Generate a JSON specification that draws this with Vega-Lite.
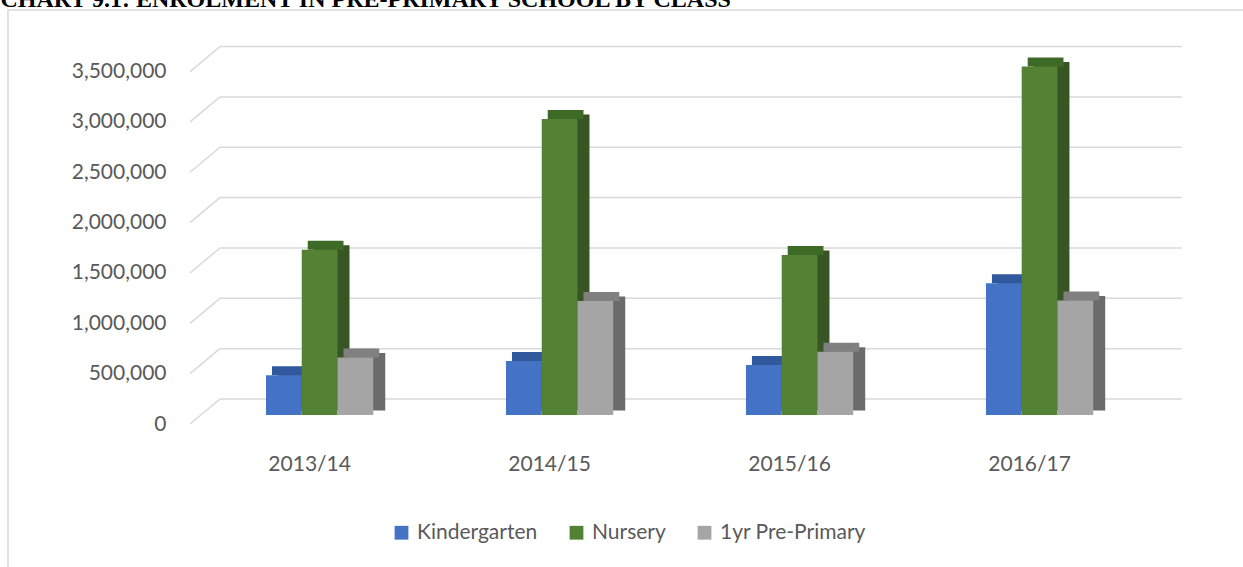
{
  "$schema": "https://vega.github.io/schema/vega-lite/v6.json",
  "autosize": "none",
  "width": 1240,
  "height": 560,
  "padding": {"left": 8, "top": 10, "right": 0, "bottom": 0},
  "background": "white",
  "config": {
    "view": {"stroke": "#d9d9d9", "strokeWidth": 1.5},
    "axis": {
      "labelFont": "Lato",
      "labelFontSize": 21,
      "labelColor": "#595959",
      "domain": false,
      "ticks": false,
      "tickSize": 0,
      "grid": false
    },
    "legend": {
      "labelFont": "Lato",
      "labelFontSize": 21,
      "labelColor": "#595959"
    }
  },
  "datasets": {
    "enrol": [
      {"year": "2013/14", "series": "Kindergarten", "value": 395000},
      {"year": "2013/14", "series": "Nursery", "value": 1640000},
      {"year": "2013/14", "series": "1yr Pre-Primary", "value": 570000},
      {"year": "2014/15", "series": "Kindergarten", "value": 537000},
      {"year": "2014/15", "series": "Nursery", "value": 2940000},
      {"year": "2014/15", "series": "1yr Pre-Primary", "value": 1133000},
      {"year": "2015/16", "series": "Kindergarten", "value": 497000},
      {"year": "2015/16", "series": "Nursery", "value": 1590000},
      {"year": "2015/16", "series": "1yr Pre-Primary", "value": 629000},
      {"year": "2016/17", "series": "Kindergarten", "value": 1309000},
      {"year": "2016/17", "series": "Nursery", "value": 3460000},
      {"year": "2016/17", "series": "1yr Pre-Primary", "value": 1136000}
    ],
    "grid": [
      {"v": 0}, {"v": 500000}, {"v": 1000000}, {"v": 1500000},
      {"v": 2000000}, {"v": 2500000}, {"v": 3000000}, {"v": 3500000}
    ]
  },
  "layer": [
    {
      "data": {"name": "grid"},
      "mark": {"type": "rule", "color": "#d9d9d9", "strokeWidth": 1.5, "yOffset": -16},
      "encoding": {
        "x": {
          "datum": "2013/14",
          "bandPosition": -0.429,
          "type": "nominal",
          "scale": {"paddingInner": 0.553, "paddingOuter": 0.86, "align": 0.625},
          "axis": {"title": null, "labelAngle": 0, "offset": -117, "labelPadding": 0, "labelBaseline": "top", "labelOffset": -10, "bandPosition": 0.5}
        },
        "x2": {"datum": "2016/17", "bandPosition": 1.827},
        "y": {
          "field": "v",
          "type": "quantitative",
          "scale": {"domain": [-1539000, 4022000], "nice": false, "zero": false},
          "axis": {
            "values": [0, 500000, 1000000, 1500000, 2000000, 2500000, 3000000, 3500000],
            "format": ",.0f",
            "offset": -158,
            "labelPadding": 0,
            "labelOffset": 9,
            "title": "CHART 9.1: ENROLMENT IN PRE-PRIMARY SCHOOL BY CLASS",
            "titleAngle": 0,
            "titleX": -166,
            "titleY": -4,
            "titleAlign": "left",
            "titleBaseline": "alphabetic",
            "titleFont": "Liberation Serif",
            "titleFontSize": 24,
            "titleFontWeight": "bold",
            "titleColor": "#000000"
          }
        }
      }
    },
    {
      "data": {"name": "grid"},
      "mark": {"type": "rule", "color": "#d9d9d9", "strokeWidth": 1.5, "yOffset": 9, "y2Offset": -16},
      "encoding": {
        "x": {"datum": "2013/14", "bandPosition": -0.708, "type": "nominal"},
        "x2": {"datum": "2013/14", "bandPosition": -0.429},
        "y": {"field": "v", "type": "quantitative"},
        "y2": {"field": "v"}
      }
    },
    {
      "data": {"name": "enrol"},
      "mark": {"type": "bar", "yOffset": -4.5},
      "encoding": {
        "x": {"field": "year", "type": "nominal"},
        "xOffset": {
          "field": "series",
          "type": "nominal",
          "scale": {"domain": ["Kindergarten", "Nursery", "1yr Pre-Primary"], "range": [12, 119.28], "paddingInner": 0, "paddingOuter": 0}
        },
        "y": {"field": "value", "type": "quantitative"},
        "color": {
          "field": "series",
          "type": "nominal",
          "scale": {"domain": ["Kindergarten", "Nursery", "1yr Pre-Primary"], "range": ["#2f528f", "#375623", "#6b6b6b"]},
          "legend": null
        }
      }
    },
    {
      "data": {"name": "enrol"},
      "mark": {"type": "bar", "y2Offset": -9},
      "encoding": {
        "x": {"field": "year", "type": "nominal"},
        "xOffset": {
          "field": "series",
          "type": "nominal",
          "scale": {"domain": ["Kindergarten", "Nursery", "1yr Pre-Primary"], "range": [6, 113.28], "paddingInner": 0, "paddingOuter": 0}
        },
        "y": {"field": "value", "type": "quantitative"},
        "y2": {"field": "value"},
        "color": {
          "field": "series",
          "type": "nominal",
          "scale": {"domain": ["Kindergarten", "Nursery", "1yr Pre-Primary"], "range": ["#30589c", "#3e6a28", "#808080"]},
          "legend": null
        }
      }
    },
    {
      "data": {"name": "enrol"},
      "mark": {"type": "bar"},
      "encoding": {
        "x": {"field": "year", "type": "nominal"},
        "xOffset": {
          "field": "series",
          "type": "nominal",
          "scale": {"domain": ["Kindergarten", "Nursery", "1yr Pre-Primary"], "paddingInner": 0, "paddingOuter": 0}
        },
        "y": {"field": "value", "type": "quantitative"},
        "color": {
          "field": "series",
          "type": "nominal",
          "scale": {"domain": ["Kindergarten", "Nursery", "1yr Pre-Primary"], "range": ["#4472c4", "#548235", "#a5a5a5"]},
          "legend": {
            "title": null,
            "orient": "none",
            "direction": "horizontal",
            "legendX": 383,
            "legendY": 512,
            "symbolType": "square",
            "symbolSize": 190,
            "symbolStrokeWidth": 0,
            "labelOffset": 5,
            "columnPadding": 28
          }
        }
      }
    }
  ],
  "resolve": {"scale": {"color": "independent", "xOffset": "independent"}}
}
